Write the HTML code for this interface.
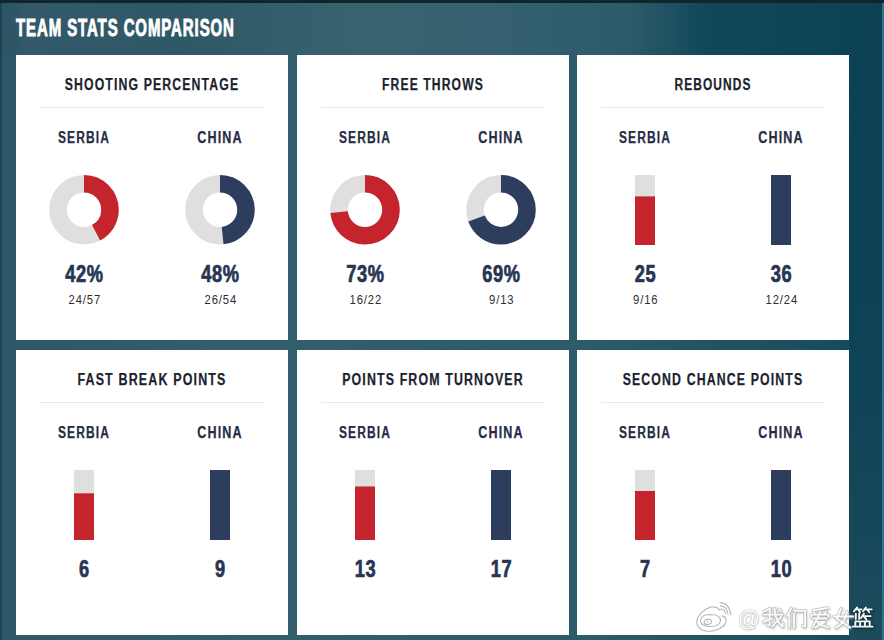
<!DOCTYPE html>
<html><head><meta charset="utf-8"><style>
html,body{margin:0;padding:0;width:884px;height:640px;overflow:hidden;background:#2d5a66;}
svg{display:block}
text{font-family:"Liberation Sans",sans-serif}
.title{font-weight:bold;font-size:23px;fill:#fff;stroke:#fff;stroke-width:0.9px;letter-spacing:1.4px}
.hd{font-weight:bold;font-size:17.4px;fill:#1c1f2f;stroke:#1c1f2f;stroke-width:0.25px;letter-spacing:1.6px}
.tm{font-weight:bold;font-size:17.4px;fill:#262c45;stroke:#262c45;stroke-width:0.25px;letter-spacing:1.6px}
.big{font-weight:bold;font-size:23.3px;fill:#273553;stroke:#273553;stroke-width:0.7px;letter-spacing:0.8px}
.sm{font-size:12.8px;fill:#2e2e2e;letter-spacing:1px}
</style></head><body>
<svg width="884" height="640" viewBox="0 0 884 640">
<defs>
<linearGradient id="gtop" gradientUnits="userSpaceOnUse" x1="0" y1="0" x2="884" y2="0">
<stop offset="0" stop-color="#2b5361"/>
<stop offset="0.03" stop-color="#33596a"/>
<stop offset="0.2" stop-color="#2f5866"/>
<stop offset="0.42" stop-color="#38636f"/>
<stop offset="0.55" stop-color="#356170"/>
<stop offset="0.71" stop-color="#2d5b69"/>
<stop offset="0.8" stop-color="#10475a"/>
<stop offset="1" stop-color="#0b4153"/>
</linearGradient>
<linearGradient id="gmid" gradientUnits="userSpaceOnUse" x1="0" y1="0" x2="884" y2="0">
<stop offset="0" stop-color="#2e5868"/>
<stop offset="0.3" stop-color="#335e6c"/>
<stop offset="0.66" stop-color="#2d5b69"/>
<stop offset="0.96" stop-color="#174b5b"/>
<stop offset="0.97" stop-color="#0e4354"/>
<stop offset="1" stop-color="#0d4254"/>
</linearGradient>
<linearGradient id="gright" gradientUnits="userSpaceOnUse" x1="0" y1="0" x2="0" y2="640">
<stop offset="0" stop-color="#0b4153"/>
<stop offset="0.6" stop-color="#0e4355"/>
<stop offset="1" stop-color="#1d4b5c"/>
</linearGradient>
</defs>
<rect x="0" y="0" width="884" height="640" fill="url(#gmid)"/>
<rect x="0" y="0" width="884" height="55" fill="url(#gtop)"/>
<rect x="849" y="55" width="35" height="585" fill="url(#gright)"/>
<rect x="882" y="0" width="2" height="640" fill="#2a7590"/>
<rect x="0" y="0" width="2" height="640" fill="#1e4255"/>
<rect x="0" y="0" width="884" height="3" fill="#0f262c"/>
<text id="title" x="16" y="36" class="title" textLength="218.8256988479269" lengthAdjust="spacingAndGlyphs">TEAM STATS COMPARISON</text>
<rect x="16" y="55" width="272" height="285" fill="#fff"/><rect x="40" y="107" width="224" height="1" fill="#e9e9e9"/><text x="152" y="90" class="hd" text-anchor="middle" textLength="174.50" lengthAdjust="spacingAndGlyphs">SHOOTING PERCENTAGE</text><text x="84" y="143" class="tm" text-anchor="middle" textLength="52.03" lengthAdjust="spacingAndGlyphs">SERBIA</text><circle cx="84" cy="209.75" r="26.0" fill="none" stroke="#dfdfdf" stroke-width="17.5"/><circle cx="84" cy="209.75" r="26.0" fill="none" stroke="#c4242b" stroke-width="17.5" stroke-dasharray="68.612 163.363" transform="rotate(-90 84 209.75)"/><text x="84.4" y="282.4" class="big" text-anchor="middle" textLength="38.38" lengthAdjust="spacingAndGlyphs">42%</text><text x="84.8" y="304" class="sm" text-anchor="middle" textLength="32.54" lengthAdjust="spacingAndGlyphs">24/57</text><text x="220" y="143" class="tm" text-anchor="middle" textLength="45.51" lengthAdjust="spacingAndGlyphs">CHINA</text><circle cx="220" cy="209.75" r="26.0" fill="none" stroke="#dfdfdf" stroke-width="17.5"/><circle cx="220" cy="209.75" r="26.0" fill="none" stroke="#2d3d5e" stroke-width="17.5" stroke-dasharray="78.414 163.363" transform="rotate(-90 220 209.75)"/><text x="220.4" y="282.4" class="big" text-anchor="middle" textLength="38.38" lengthAdjust="spacingAndGlyphs">48%</text><text x="220.8" y="304" class="sm" text-anchor="middle" textLength="32.54" lengthAdjust="spacingAndGlyphs">26/54</text><rect x="297" y="55" width="272" height="285" fill="#fff"/><rect x="321" y="107" width="224" height="1" fill="#e9e9e9"/><text x="433" y="90" class="hd" text-anchor="middle" textLength="101.89" lengthAdjust="spacingAndGlyphs">FREE THROWS</text><text x="365" y="143" class="tm" text-anchor="middle" textLength="52.03" lengthAdjust="spacingAndGlyphs">SERBIA</text><circle cx="365" cy="209.75" r="26.0" fill="none" stroke="#dfdfdf" stroke-width="17.5"/><circle cx="365" cy="209.75" r="26.0" fill="none" stroke="#c4242b" stroke-width="17.5" stroke-dasharray="119.255 163.363" transform="rotate(-90 365 209.75)"/><text x="365.4" y="282.4" class="big" text-anchor="middle" textLength="38.38" lengthAdjust="spacingAndGlyphs">73%</text><text x="365.8" y="304" class="sm" text-anchor="middle" textLength="32.54" lengthAdjust="spacingAndGlyphs">16/22</text><text x="501" y="143" class="tm" text-anchor="middle" textLength="45.51" lengthAdjust="spacingAndGlyphs">CHINA</text><circle cx="501" cy="209.75" r="26.0" fill="none" stroke="#dfdfdf" stroke-width="17.5"/><circle cx="501" cy="209.75" r="26.0" fill="none" stroke="#2d3d5e" stroke-width="17.5" stroke-dasharray="112.720 163.363" transform="rotate(-90 501 209.75)"/><text x="501.4" y="282.4" class="big" text-anchor="middle" textLength="38.38" lengthAdjust="spacingAndGlyphs">69%</text><text x="501.8" y="304" class="sm" text-anchor="middle" textLength="25.41" lengthAdjust="spacingAndGlyphs">9/13</text><rect x="577" y="55" width="272" height="285" fill="#fff"/><rect x="601" y="107" width="224" height="1" fill="#e9e9e9"/><text x="713" y="90" class="hd" text-anchor="middle" textLength="77.09" lengthAdjust="spacingAndGlyphs">REBOUNDS</text><text x="645" y="143" class="tm" text-anchor="middle" textLength="52.03" lengthAdjust="spacingAndGlyphs">SERBIA</text><rect x="635" y="175" width="20" height="70" fill="#dfdfdf"/><rect x="635" y="196.39" width="20" height="48.61" fill="#c4242b"/><text x="645.4" y="282.4" class="big" text-anchor="middle" textLength="21.54" lengthAdjust="spacingAndGlyphs">25</text><text x="645.8" y="304" class="sm" text-anchor="middle" textLength="25.41" lengthAdjust="spacingAndGlyphs">9/16</text><text x="781" y="143" class="tm" text-anchor="middle" textLength="45.51" lengthAdjust="spacingAndGlyphs">CHINA</text><rect x="771" y="175" width="20" height="70" fill="#dfdfdf"/><rect x="771" y="175.00" width="20" height="70.00" fill="#2d3d5e"/><text x="781.4" y="282.4" class="big" text-anchor="middle" textLength="21.54" lengthAdjust="spacingAndGlyphs">36</text><text x="781.8" y="304" class="sm" text-anchor="middle" textLength="32.54" lengthAdjust="spacingAndGlyphs">12/24</text><rect x="16" y="350" width="272" height="285" fill="#fff"/><rect x="40" y="402" width="224" height="1" fill="#e9e9e9"/><text x="152" y="385" class="hd" text-anchor="middle" textLength="149.18" lengthAdjust="spacingAndGlyphs">FAST BREAK POINTS</text><text x="84" y="438" class="tm" text-anchor="middle" textLength="52.03" lengthAdjust="spacingAndGlyphs">SERBIA</text><rect x="74" y="470" width="20" height="70" fill="#dfdfdf"/><rect x="74" y="493.33" width="20" height="46.67" fill="#c4242b"/><text x="84.4" y="577.4" class="big" text-anchor="middle" textLength="10.77" lengthAdjust="spacingAndGlyphs">6</text><text x="220" y="438" class="tm" text-anchor="middle" textLength="45.51" lengthAdjust="spacingAndGlyphs">CHINA</text><rect x="210" y="470" width="20" height="70" fill="#dfdfdf"/><rect x="210" y="470.00" width="20" height="70.00" fill="#2d3d5e"/><text x="220.4" y="577.4" class="big" text-anchor="middle" textLength="10.77" lengthAdjust="spacingAndGlyphs">9</text><rect x="297" y="350" width="272" height="285" fill="#fff"/><rect x="321" y="402" width="224" height="1" fill="#e9e9e9"/><text x="433" y="385" class="hd" text-anchor="middle" textLength="181.67" lengthAdjust="spacingAndGlyphs">POINTS FROM TURNOVER</text><text x="365" y="438" class="tm" text-anchor="middle" textLength="52.03" lengthAdjust="spacingAndGlyphs">SERBIA</text><rect x="355" y="470" width="20" height="70" fill="#dfdfdf"/><rect x="355" y="486.47" width="20" height="53.53" fill="#c4242b"/><text x="365.4" y="577.4" class="big" text-anchor="middle" textLength="21.54" lengthAdjust="spacingAndGlyphs">13</text><text x="501" y="438" class="tm" text-anchor="middle" textLength="45.51" lengthAdjust="spacingAndGlyphs">CHINA</text><rect x="491" y="470" width="20" height="70" fill="#dfdfdf"/><rect x="491" y="470.00" width="20" height="70.00" fill="#2d3d5e"/><text x="501.4" y="577.4" class="big" text-anchor="middle" textLength="21.54" lengthAdjust="spacingAndGlyphs">17</text><rect x="577" y="350" width="272" height="285" fill="#fff"/><rect x="601" y="402" width="224" height="1" fill="#e9e9e9"/><text x="713" y="385" class="hd" text-anchor="middle" textLength="180.71" lengthAdjust="spacingAndGlyphs">SECOND CHANCE POINTS</text><text x="645" y="438" class="tm" text-anchor="middle" textLength="52.03" lengthAdjust="spacingAndGlyphs">SERBIA</text><rect x="635" y="470" width="20" height="70" fill="#dfdfdf"/><rect x="635" y="491.00" width="20" height="49.00" fill="#c4242b"/><text x="645.4" y="577.4" class="big" text-anchor="middle" textLength="10.77" lengthAdjust="spacingAndGlyphs">7</text><text x="781" y="438" class="tm" text-anchor="middle" textLength="45.51" lengthAdjust="spacingAndGlyphs">CHINA</text><rect x="771" y="470" width="20" height="70" fill="#dfdfdf"/><rect x="771" y="470.00" width="20" height="70.00" fill="#2d3d5e"/><text x="781.4" y="577.4" class="big" text-anchor="middle" textLength="21.54" lengthAdjust="spacingAndGlyphs">10</text>
<defs><filter id="wmb" x="-20%" y="-20%" width="140%" height="140%"><feGaussianBlur stdDeviation="0.9"/></filter></defs><g><g transform="translate(761.5 606.5) scale(0.96)"><path d="M9 2 L3 5 M2 8.5 L22 8.5 M8.5 3 L8.5 20 L6.5 19 M2 16 L11 12.5 M13.5 2 Q14 14 22 21 L22 17 M18 3 L20 5 M20.5 10.5 L11 21" fill="none" stroke="#888" stroke-opacity="0.45" stroke-width="3.4" stroke-linecap="round" stroke-linejoin="round" transform="translate(0.7 1)" filter="url(#wmb)"/><path d="M9 2 L3 5 M2 8.5 L22 8.5 M8.5 3 L8.5 20 L6.5 19 M2 16 L11 12.5 M13.5 2 Q14 14 22 21 L22 17 M18 3 L20 5 M20.5 10.5 L11 21" fill="none" stroke="#9a9a9a" stroke-opacity="0.5" stroke-width="3.6" stroke-linecap="round" stroke-linejoin="round"/><path d="M9 2 L3 5 M2 8.5 L22 8.5 M8.5 3 L8.5 20 L6.5 19 M2 16 L11 12.5 M13.5 2 Q14 14 22 21 L22 17 M18 3 L20 5 M20.5 10.5 L11 21" fill="none" stroke="#fbfbfb" stroke-width="2.0" stroke-linecap="round" stroke-linejoin="round"/></g><g transform="translate(785 606.5) scale(0.96)"><path d="M6.5 2 L2 10 M4.5 8 L4.5 22 M9.5 3 L11 5 M9.5 7.5 L9.5 22 M12.5 4.5 L21 4.5 L21 21 L18.5 20" fill="none" stroke="#888" stroke-opacity="0.45" stroke-width="3.4" stroke-linecap="round" stroke-linejoin="round" transform="translate(0.7 1)" filter="url(#wmb)"/><path d="M6.5 2 L2 10 M4.5 8 L4.5 22 M9.5 3 L11 5 M9.5 7.5 L9.5 22 M12.5 4.5 L21 4.5 L21 21 L18.5 20" fill="none" stroke="#9a9a9a" stroke-opacity="0.5" stroke-width="3.6" stroke-linecap="round" stroke-linejoin="round"/><path d="M6.5 2 L2 10 M4.5 8 L4.5 22 M9.5 3 L11 5 M9.5 7.5 L9.5 22 M12.5 4.5 L21 4.5 L21 21 L18.5 20" fill="none" stroke="#fbfbfb" stroke-width="2.0" stroke-linecap="round" stroke-linejoin="round"/></g><g transform="translate(808.5 606.5) scale(0.96)"><path d="M20 1.5 L5 4 M6 6 L7 8 M11.5 5.5 L12 8 M18 5.5 L16.5 8 M3 11 L3 8.5 L21 8.5 L21 11 M5 12.5 L19 12.5 M10.5 10 L4 22 M8 16 L17 16 L7 22 M10 18 L21 22" fill="none" stroke="#888" stroke-opacity="0.45" stroke-width="3.4" stroke-linecap="round" stroke-linejoin="round" transform="translate(0.7 1)" filter="url(#wmb)"/><path d="M20 1.5 L5 4 M6 6 L7 8 M11.5 5.5 L12 8 M18 5.5 L16.5 8 M3 11 L3 8.5 L21 8.5 L21 11 M5 12.5 L19 12.5 M10.5 10 L4 22 M8 16 L17 16 L7 22 M10 18 L21 22" fill="none" stroke="#9a9a9a" stroke-opacity="0.5" stroke-width="3.6" stroke-linecap="round" stroke-linejoin="round"/><path d="M20 1.5 L5 4 M6 6 L7 8 M11.5 5.5 L12 8 M18 5.5 L16.5 8 M3 11 L3 8.5 L21 8.5 L21 11 M5 12.5 L19 12.5 M10.5 10 L4 22 M8 16 L17 16 L7 22 M10 18 L21 22" fill="none" stroke="#fbfbfb" stroke-width="2.0" stroke-linecap="round" stroke-linejoin="round"/></g><g transform="translate(832 606.5) scale(0.96)"><path d="M9.5 2 L5 12.5 L19 22 M15.5 5.5 Q14 17 4 22 M2 10.5 L22 10.5" fill="none" stroke="#888" stroke-opacity="0.45" stroke-width="3.4" stroke-linecap="round" stroke-linejoin="round" transform="translate(0.7 1)" filter="url(#wmb)"/><path d="M9.5 2 L5 12.5 L19 22 M15.5 5.5 Q14 17 4 22 M2 10.5 L22 10.5" fill="none" stroke="#9a9a9a" stroke-opacity="0.5" stroke-width="3.6" stroke-linecap="round" stroke-linejoin="round"/><path d="M9.5 2 L5 12.5 L19 22 M15.5 5.5 Q14 17 4 22 M2 10.5 L22 10.5" fill="none" stroke="#fbfbfb" stroke-width="2.0" stroke-linecap="round" stroke-linejoin="round"/></g><g transform="translate(851 606.5) scale(0.96)"><path d="M6.5 1 L3 5 M5 3 L11 3 M8 4 L9.5 6 M15.5 1 L12.5 5 M14.5 3 L21.5 3 M17.5 4 L19 6 M5 7.5 L5 13 M8.5 7.5 L8.5 13 M13.5 7.5 L10.5 12 M12 10 L20.5 10 M14 11 L16 13.5 M4.5 20.5 L4.5 15.5 L19.5 15.5 L19.5 20.5 M9.5 15.5 L9.5 20.5 M14.5 15.5 L14.5 20.5 M1.5 21 L22.5 21" fill="none" stroke="#06222c" stroke-opacity="0.6" stroke-width="3.2" stroke-linecap="round" stroke-linejoin="round" transform="translate(0.6 0.9)" filter="url(#wmb)"/><path d="M6.5 1 L3 5 M5 3 L11 3 M8 4 L9.5 6 M15.5 1 L12.5 5 M14.5 3 L21.5 3 M17.5 4 L19 6 M5 7.5 L5 13 M8.5 7.5 L8.5 13 M13.5 7.5 L10.5 12 M12 10 L20.5 10 M14 11 L16 13.5 M4.5 20.5 L4.5 15.5 L19.5 15.5 L19.5 20.5 M9.5 15.5 L9.5 20.5 M14.5 15.5 L14.5 20.5 M1.5 21 L22.5 21" fill="none" stroke="#f4f8f8" stroke-width="2.0" stroke-linecap="round" stroke-linejoin="round"/></g><text x="749.5" y="627" text-anchor="middle" font-family="Liberation Sans, sans-serif" font-size="22" fill="#777" fill-opacity="0.35" filter="url(#wmb)">@</text><text x="748.8" y="626" text-anchor="middle" font-family="Liberation Sans, sans-serif" font-size="22" fill="#fff" stroke="#b5b5b5" stroke-opacity="0.7" stroke-width="1.2" paint-order="stroke">@</text><path d="M720 610 Q716 606 711 607 Q702 610 697.5 618 Q695 626 702 630 Q710 633 719 629 Q727 625 726 619 Q725 616 722 616 M700.5 621 Q700 615 710 614.5 Q720.5 614.5 720.5 620.5 Q720 626.5 710.5 626.5 Q701 626.5 700.5 621 Z M704 622.5 Q704.5 619.5 708 619.3 Q712 619.5 711.5 622 Q711 624.5 707.5 624.5 Q704 624.5 704 622.5 Z M707 622 L707.6 622 M720 602.8 Q729.5 603 730.8 614.8 M720.3 605.8 Q727.2 606.3 728 614.2 M721 609 Q725 609.5 725.5 613.5" fill="none" stroke="#8a8a8a" stroke-opacity="0.65" stroke-width="1.1" stroke-linecap="round"/></g>
</svg>
</body></html>
